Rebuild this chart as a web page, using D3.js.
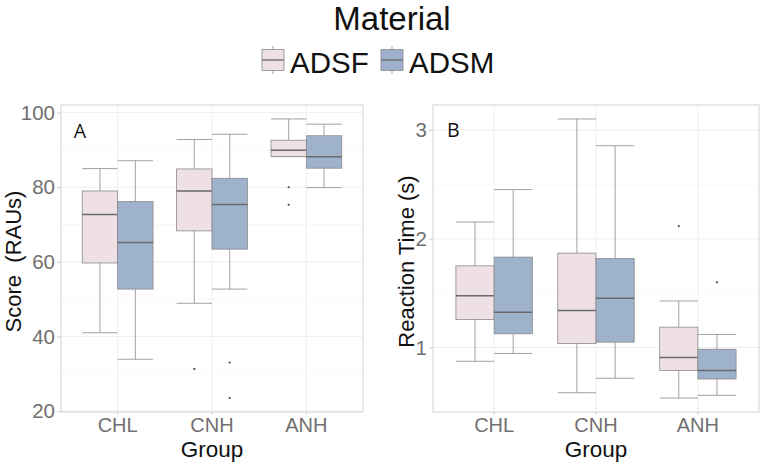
<!DOCTYPE html>
<html>
<head>
<meta charset="utf-8">
<script src="https://cdn.jsdelivr.net/npm/d3@7"></script>
<style>
  html, body { margin: 0; padding: 0; background: #ffffff; }
  svg { display: block; }
  text { font-family: "Liberation Sans", Arial, sans-serif; }
</style>
</head>
<body>
<svg id="chart" width="763" height="466"></svg>
<script>
// ---------------- DATA ----------------
const groups = ["CHL", "CNH", "ANH"];
const materials = ["ADSF", "ADSM"];
const materialColors = ["#efe0e6", "#9fb2cc"];

// box stats: [lower whisker, Q1, median, Q3, upper whisker]
const scoreADSF = [[41.0, 59.7, 72.7, 79.0, 85.0], [48.9, 68.3, 79.0, 84.9, 92.8], [88.2, 88.2, 89.9, 92.6, 98.3]];
const scoreADSM = [[33.9, 52.7, 65.2, 76.2, 87.1], [52.7, 63.4, 75.4, 82.4, 94.2], [79.9, 85.1, 88.2, 93.8, 96.9]];
const scoreOutADSF = [[], [31.3], [80.0, 75.3]];
const scoreOutADSM = [[], [33.0, 23.5], []];

const rtADSF = [[0.873, 1.258, 1.477, 1.751, 2.154], [0.584, 1.037, 1.341, 1.868, 3.102], [0.535, 0.788, 0.908, 1.187, 1.428]];
const rtADSM = [[0.945, 1.126, 1.323, 1.831, 2.452], [0.717, 1.049, 1.452, 1.818, 2.856], [0.560, 0.710, 0.788, 0.984, 1.120]];
const rtOutADSF = [[], [], [2.117]];
const rtOutADSM = [[], [], [1.600]];

const scoreTicks = [20, 40, 60, 80, 100];
const scoreMinor = [30, 50, 70, 90];
const rtTicks = [1, 2, 3];
const rtMinor = [0.5, 1.5, 2.5];

// ---------------- DRAW ----------------
const svg = d3.select("#chart");
svg.append("rect").attr("width", 763).attr("height", 466).attr("fill", "#fff");

const strokeCol = "#8a8a8a";
const medianCol = "#6a6a6a";

function panel(opts) {
  const { left, right, top, bottom, stats, outs, ticks, minor, yTitle, label } = opts;
  const g = svg.append("g");
  // y domain with 5% expansion
  const all = [];
  stats.forEach(s => s.forEach(b => all.push(...b)));
  outs.forEach(s => s.forEach(o => all.push(...o)));
  const lo = d3.min(all), hi = d3.max(all), pad = (hi - lo) * 0.05;
  const y = d3.scaleLinear().domain([lo - pad, hi + pad]).range([bottom, top]);

  const x = d3.scaleBand().domain(groups).range([left, right]).paddingInner(0.25).paddingOuter(0.225);
  const xm = d3.scaleBand().domain(materials).range([0, x.bandwidth()]).padding(0);

  // grid
  g.selectAll(".minor").data(minor.filter(v => v > y.domain()[0] && v < y.domain()[1])).join("line")
    .attr("x1", left).attr("x2", right).attr("y1", d => y(d)).attr("y2", d => y(d))
    .attr("stroke", "#f4f4f4").attr("stroke-width", 0.6);
  g.selectAll(".major").data(ticks).join("line")
    .attr("x1", left).attr("x2", right).attr("y1", d => y(d)).attr("y2", d => y(d))
    .attr("stroke", "#ebebeb").attr("stroke-width", 0.8);
  g.selectAll(".vgrid").data(groups).join("line")
    .attr("x1", d => x(d) + x.bandwidth() / 2).attr("x2", d => x(d) + x.bandwidth() / 2)
    .attr("y1", top).attr("y2", bottom)
    .attr("stroke", "#ebebeb").attr("stroke-width", 0.8);

  // boxes
  materials.forEach((m, mi) => {
    const st = stats[mi];
    const oo = outs[mi];
    groups.forEach((grp, gi) => {
      const b = st[gi];
      const x0 = x(grp) + xm(m), w = xm.bandwidth(), cx = x0 + w / 2;
      const bg = g.append("g");
      // whiskers
      bg.append("line").attr("x1", cx).attr("x2", cx).attr("y1", y(b[3])).attr("y2", y(b[4]))
        .attr("stroke", strokeCol).attr("stroke-width", 0.8);
      bg.append("line").attr("x1", cx).attr("x2", cx).attr("y1", y(b[1])).attr("y2", y(b[0]))
        .attr("stroke", strokeCol).attr("stroke-width", 0.8);
      // caps
      [b[0], b[4]].forEach(v => {
        bg.append("line").attr("x1", x0).attr("x2", x0 + w).attr("y1", y(v)).attr("y2", y(v))
          .attr("stroke", strokeCol).attr("stroke-width", 0.8);
      });
      // box
      bg.append("rect").attr("x", x0).attr("width", w)
        .attr("y", y(b[3])).attr("height", y(b[1]) - y(b[3]))
        .attr("fill", materialColors[mi]).attr("stroke", strokeCol).attr("stroke-width", 0.8);
      // median
      bg.append("line").attr("x1", x0).attr("x2", x0 + w).attr("y1", y(b[2])).attr("y2", y(b[2]))
        .attr("stroke", medianCol).attr("stroke-width", 1.5);
      // outliers
      oo[gi].forEach(v => {
        bg.append("circle").attr("cx", cx).attr("cy", y(v)).attr("r", 1.1).attr("fill", "#444");
      });
    });
  });

  // border
  g.append("rect").attr("x", left).attr("y", top).attr("width", right - left).attr("height", bottom - top)
    .attr("fill", "none").attr("stroke", "#d2d2d2").attr("stroke-width", 1);

  // y axis ticks + labels
  const yAxis = d3.axisLeft(y).tickValues(ticks).tickSize(4).tickPadding(2).tickFormat(d3.format("d"));
  const ya = g.append("g").attr("transform", `translate(${left},0)`).call(yAxis);
  ya.select(".domain").remove();
  ya.selectAll(".tick line").attr("stroke", "#cfcfcf");
  ya.selectAll(".tick text").attr("fill", "#707070").style("font-size", "20.5px")
    .style("font-family", "'Liberation Sans', Arial, sans-serif");

  // x axis
  const xAxis = d3.axisBottom(x).tickSize(3).tickPadding(3);
  const xa = g.append("g").attr("transform", `translate(0,${bottom})`).call(xAxis);
  xa.select(".domain").remove();
  xa.selectAll(".tick line").attr("stroke", "#cfcfcf");
  xa.selectAll(".tick text").attr("fill", "#707070").style("font-size", "20px")
    .style("font-family", "'Liberation Sans', Arial, sans-serif");

  // axis titles
  g.append("text").attr("x", (left + right) / 2).attr("y", 457).attr("text-anchor", "middle")
    .attr("fill", "#111").style("font-size", "22.5px").text("Group");
  g.append("text").attr("transform", `translate(${opts.yTitleX},${(top + bottom) / 2 + 3}) rotate(-90)`)
    .attr("text-anchor", "middle").attr("fill", "#111").style("font-size", "22px")
    .style("white-space", "pre").text(yTitle);

  // panel label (annotation at x = 0.6 group units, y = label value)
  const step = x.step();
  const labelX = x(groups[0]) + x.bandwidth() / 2 - 0.4 * step;
  g.append("text").attr("x", labelX).attr("y", y(opts.labelY)).attr("dy", "0.36em")
    .attr("text-anchor", "middle").attr("fill", "#111")
    .style("font-family", "'Open Sans', sans-serif").style("font-size", "19.5px").text(label);
}

panel({ left: 61, right: 363, top: 105, bottom: 412,
  stats: [scoreADSF, scoreADSM], outs: [scoreOutADSF, scoreOutADSM],
  ticks: scoreTicks, minor: scoreMinor, yTitle: "Score  (RAUs)", yTitleX: 21, label: "A", labelY: 95 });

panel({ left: 433, right: 759, top: 105, bottom: 412,
  stats: [rtADSF, rtADSM], outs: [rtOutADSF, rtOutADSM],
  ticks: rtTicks, minor: rtMinor, yTitle: "Reaction Time (s)", yTitleX: 414, label: "B", labelY: 3 });

// ---------------- LEGEND ----------------
svg.append("text").attr("x", 392).attr("y", 30).attr("text-anchor", "middle")
  .attr("fill", "#111").style("font-size", "33px").text("Material");

const legendKeys = [{ x: 262, tx: 290 }, { x: 381, tx: 409 }];
materials.forEach((m, i) => {
  const k = legendKeys[i];
  const lg = svg.append("g");
  lg.append("line").attr("x1", k.x + 11).attr("x2", k.x + 11).attr("y1", 46).attr("y2", 74)
    .attr("stroke", strokeCol).attr("stroke-width", 0.8);
  lg.append("rect").attr("x", k.x).attr("y", 49.5).attr("width", 22).attr("height", 21)
    .attr("fill", materialColors[i]).attr("stroke", strokeCol).attr("stroke-width", 0.8);
  lg.append("line").attr("x1", k.x).attr("x2", k.x + 22).attr("y1", 60).attr("y2", 60)
    .attr("stroke", medianCol).attr("stroke-width", 1.3);
  lg.append("text").attr("x", k.tx).attr("y", 72.5).attr("fill", "#111")
    .style("font-size", "29.5px").text(m);
});
</script>
</body>
</html>
